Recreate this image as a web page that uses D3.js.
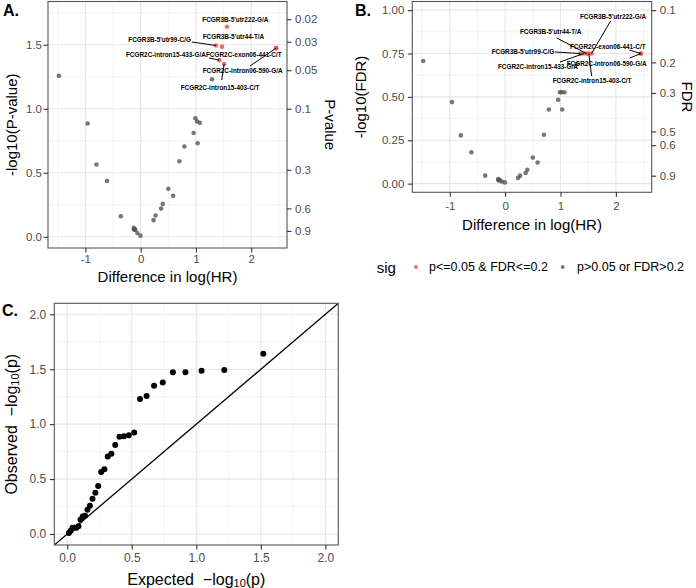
<!DOCTYPE html>
<html><head><meta charset="utf-8">
<script src="https://cdn.jsdelivr.net/npm/d3@7"></script>
<style>
body{margin:0;background:#fff;}
svg text{font-family:"Liberation Sans",Arial,sans-serif;}
</style>
</head><body>
<svg id="c" width="696" height="588"></svg>
<script>
// ---------------- data ----------------
const snpNames = [
  "FCGR3B-5'utr222-G/A","FCGR3B-5'utr99-C/G","FCGR3B-5'utr44-T/A","FCGR2C-exon06-441-C/T",
  "FCGR2C-intron06-590-G/A","FCGR2C-intron15-433-G/A","FCGR2C-intron15-403-C/T",
  "s8","s9","s10","s11","s12","s13","s14","s15","s16","s17","s18","s19","s20",
  "s21","s22","s23","s24","s25","s26","s27","s28","s29","s30","s31","s32"];
const diffLogHR = [1.56,1.36,1.47,2.45,2.45,1.42,1.51,
  -1.48,1.29,0.99,1.02,1.07,-0.96,0.957,1.03,0.79,0.70,-0.80,-0.61,0.50,
  0.587,0.40,0.37,0.27,-0.36,0.233,-0.126,-0.108,-0.12,-0.10,-0.06,-0.005];
const negLog10P = [1.64,1.494,1.485,1.473,1.473,1.38,1.35,
  1.257,1.23,0.925,0.90,0.89,0.885,0.81,0.73,0.705,0.59,0.564,0.436,0.375,
  0.32,0.257,0.22,0.166,0.16,0.13,0.07,0.057,0.057,0.057,0.03,0.009];
const negLog10FDR = [0.75,0.75,0.75,0.75,0.75,0.75,0.75,
  0.707,0.69,0.527,0.527,0.527,0.47,0.484,0.427,0.427,0.282,0.278,0.181,0.15,
  0.122,0.08,0.061,0.046,0.046,0.033,0.027,0.02,0.02,0.02,0.012,0.007];
const sigFlag = [1,1,1,1,1,1,1, 0,0,0,0,0,0,0,0,0,0,0,0,0, 0,0,0,0,0,0,0,0,0,0,0,0];
const sigLevels = ["p<=0.05 & FDR<=0.2","p>0.05 or FDR>0.2"];
const pValueTicks = [0.02,0.03,0.05,0.1,0.3,0.6,0.9];
const fdrTicks = [0.1,0.2,0.3,0.5,0.6,0.9];
const qqExpected = [1.519,1.217,1.041,0.916,0.819,0.740,0.673,0.615,0.564,0.519,0.477,0.439,
  0.405,0.372,0.342,0.314,0.288,0.263,0.240,0.218,0.196,0.176,0.157,0.138,0.120,0.103,
  0.087,0.071,0.056,0.041,0.027,0.013];
const qqObserved = [1.64,1.494,1.485,1.473,1.473,1.38,1.35,1.257,1.23,0.925,0.90,0.89,
  0.885,0.81,0.73,0.705,0.59,0.564,0.436,0.375,0.32,0.257,0.22,0.166,0.16,0.13,
  0.07,0.057,0.057,0.057,0.03,0.009];
const xTicksHR = [-1,0,1,2];
const yTicksA = [0,0.5,1.0,1.5];
const yTicksB = [0,0.25,0.5,0.75,1.0];
const ticksC = [0,0.5,1.0,1.5,2.0];

// ------------- label layout (data units) -------------
const labelLayoutA = {
  "FCGR3B-5'utr222-G/A":[1.115,1.698,null],
  "FCGR3B-5'utr44-T/A":[1.122,1.568,null],
  "FCGR3B-5'utr99-C/G":[-0.224,1.537,[0.928,1.521]],
  "FCGR2C-intron15-433-G/A":[-0.266,1.425,[1.236,1.396]],
  "FCGR2C-exon06-441-C/T":[1.181,1.425,null],
  "FCGR2C-intron06-590-G/A":[1.122,1.295,[1.978,1.334]],
  "FCGR2C-intron15-403-C/T":[0.724,1.1675,[1.466,1.2245]]
};
const labelLayoutB = {
  "FCGR3B-5'utr222-G/A":[1.351,0.966,[1.905,0.938]],
  "FCGR3B-5'utr44-T/A":[0.267,0.876,[0.930,0.840]],
  "FCGR3B-5'utr99-C/G":[-0.244,0.761,[0.899,0.759]],
  "FCGR2C-exon06-441-C/T":[1.170,0.789,[2.241,0.770]],
  "FCGR2C-intron06-590-G/A":[1.111,0.694,[2.249,0.724]],
  "FCGR2C-intron15-433-G/A":[-0.130,0.674,[0.990,0.701]],
  "FCGR2C-intron15-403-C/T":[0.858,0.592,[1.562,0.620]]
};

const FONT = '"Liberation Sans",Arial,sans-serif';
const RED = "#ec5252", GREY = "#555555";
const svg = d3.select("#c");
const rows = diffLogHR.map((d,i)=>({name:snpNames[i],x:d,p:negLog10P[i],f:negLog10FDR[i],sig:sigFlag[i]}));

const ext = d3.extent(diffLogHR), span = ext[1]-ext[0];
const xDom = [ext[0]-0.05*span, ext[1]+0.05*span];

function minorsBetween(major, dom){
  const step = major[1]-major[0];
  const out=[];
  for(let v=major[0]-step/2; v<=dom[1]; v+=step){ if(v>=dom[0]) out.push(+v.toFixed(4)); }
  return out;
}

function panelFrame(g, x, y, xMaj, yMaj){
  const [x0,x1]=x.range(), [y0,y1]=y.range();
  g.append("rect").attr("x",x0).attr("y",y1).attr("width",x1-x0).attr("height",y0-y1).attr("fill","#fff");
  const xm = minorsBetween(xMaj, x.domain()), ym = minorsBetween(yMaj, y.domain());
  xm.forEach(v=>g.append("line").attr("x1",x(v)).attr("x2",x(v)).attr("y1",y0).attr("y2",y1).attr("stroke","#ededed").attr("stroke-width",0.6));
  ym.forEach(v=>g.append("line").attr("y1",y(v)).attr("y2",y(v)).attr("x1",x0).attr("x2",x1).attr("stroke","#ededed").attr("stroke-width",0.6));
  xMaj.forEach(v=>g.append("line").attr("x1",x(v)).attr("x2",x(v)).attr("y1",y0).attr("y2",y1).attr("stroke","#e6e6e6").attr("stroke-width",1.1));
  yMaj.forEach(v=>g.append("line").attr("y1",y(v)).attr("y2",y(v)).attr("x1",x0).attr("x2",x1).attr("stroke","#e6e6e6").attr("stroke-width",1.1));
}
function panelBorder(g,x,y){
  const [x0,x1]=x.range(), [y0,y1]=y.range();
  g.append("rect").attr("x",x0).attr("y",y1).attr("width",x1-x0).attr("height",y0-y1)
    .attr("fill","none").attr("stroke","#555").attr("stroke-width",1.1);
}
function styleAxis(a, fs){
  a.attr("font-family",FONT).attr("font-size",fs);
  a.select(".domain").remove();
  a.selectAll(".tick line").attr("stroke","#333").attr("stroke-width",1.1);
  a.selectAll(".tick text").attr("fill","#4d4d4d");
}
const fmtPlain = d=>String(d);

function volcano(cfg){
  const g = svg.append("g");
  const {x,y} = cfg;
  panelFrame(g,x,y,xTicksHR,cfg.yMaj);
  const pts = rows.slice().sort((a,b)=>a.sig-b.sig);
  g.selectAll("circle.pt").data(pts).join("circle")
    .attr("cx",d=>x(d.x)).attr("cy",d=>y(cfg.val(d))).attr("r",2.3)
    .attr("fill",d=>d.sig?RED:GREY).attr("fill-opacity",d=>d.sig?0.85:0.8);
  rows.filter(d=>cfg.layout[d.name]).forEach(d=>{
    const L = cfg.layout[d.name];
    if(L[2]) g.append("line").attr("x1",x(L[2][0])).attr("y1",y(L[2][1]))
      .attr("x2",x(d.x)).attr("y2",y(cfg.val(d))).attr("stroke","#000").attr("stroke-width",1);
  });
  rows.filter(d=>cfg.layout[d.name]).forEach(d=>{
    const L = cfg.layout[d.name];
    g.append("text").attr("x",x(L[0])).attr("y",y(L[1])).attr("dominant-baseline","central")
      .attr("font-size",6.4).attr("font-weight","bold").attr("fill","#000").text(d.name);
  });
  panelBorder(g,x,y);
  const [x0,x1]=x.range(), [y0,y1]=y.range();
  const ax = g.append("g").attr("transform",`translate(0,${y0})`)
    .call(d3.axisBottom(x).tickValues(xTicksHR).tickFormat(fmtPlain).tickSize(4.5).tickPadding(cfg.xPad));
  styleAxis(ax,11.5);
  const ay = g.append("g").attr("transform",`translate(${x0},0)`)
    .call(d3.axisLeft(y).tickValues(cfg.yMaj).tickFormat(d3.format(cfg.yFmt)).tickSize(4.5).tickPadding(cfg.yPad));
  styleAxis(ay,11.5);
  const ar = g.append("g").attr("transform",`translate(${x1},0)`)
    .call(d3.axisRight(y).tickValues(cfg.secTicks.map(p=>-Math.log10(p))).tickFormat((d,i)=>String(cfg.secTicks[i])).tickSize(4.5).tickPadding(3.5));
  styleAxis(ar,11.5);
  g.append("text").attr("x",(x0+x1)/2).attr("y",cfg.xTitleY).attr("text-anchor","middle").attr("dominant-baseline","central")
    .attr("font-size",15).text("Difference in log(HR)");
  g.append("text").attr("transform",`translate(${cfg.yTitleX},${(y0+y1)/2}) rotate(-90)`).attr("text-anchor","middle")
    .attr("dominant-baseline","central").attr("font-size",15).text(cfg.yTitle);
  g.append("text").attr("transform",`translate(${cfg.secTitleX},${(y0+y1)/2}) rotate(90)`).attr("text-anchor","middle")
    .attr("dominant-baseline","central").attr("font-size",15).text(cfg.secTitle);
  g.append("text").attr("x",cfg.tag[0]).attr("y",cfg.tag[1]).attr("font-size",16).attr("font-weight","bold").text(cfg.tagText);
}

volcano({
  x:d3.scaleLinear().domain(xDom).range([48,287]),
  y:d3.scaleLinear().domain([-0.0875,1.8375]).range([248,1.5]),
  val:d=>d.p, yMaj:yTicksA, yFmt:".1f", secTicks:pValueTicks, layout:labelLayoutA,
  xPad:2.5, yPad:1.5, xTitleY:276, yTitleX:11, secTitleX:330,
  yTitle:"-log10(P-value)", secTitle:"P-value", tag:[3,16], tagText:"A."
});
volcano({
  x:d3.scaleLinear().domain(xDom).range([412.3,651.7]),
  y:d3.scaleLinear().domain([-0.05,1.05]).range([192.3,1.5]),
  val:d=>d.f, yMaj:yTicksB, yFmt:".2f", secTicks:fdrTicks, layout:labelLayoutB,
  xPad:5, yPad:3.5, xTitleY:224, yTitleX:360, secTitleX:687,
  yTitle:"-log10(FDR)", secTitle:"FDR", tag:[355,16], tagText:"B."
});

{
  const g = svg.append("g").attr("font-family",FONT);
  g.append("text").attr("x",376.7).attr("y",267).attr("dominant-baseline","central").attr("font-size",15).text("sig");
  const items = [[416,429,RED,0.85],[562.7,577,GREY,0.8]];
  sigLevels.forEach((s,i)=>{
    const it = items[i];
    g.append("circle").attr("cx",it[0]).attr("cy",267).attr("r",1.9).attr("fill",it[2]).attr("fill-opacity",it[3]);
    g.append("text").attr("x",it[1]).attr("y",267).attr("dominant-baseline","central").attr("font-size",12.5).text(s);
  });
}

{
  const g = svg.append("g");
  const x = d3.scaleLinear().domain([-0.1,2.1]).range([54.3,338.3]);
  const y = d3.scaleLinear().domain([-0.1,2.1]).range([545,303.3]);
  panelFrame(g,x,y,ticksC,ticksC);
  const clipId="clipC";
  svg.append("defs").append("clipPath").attr("id",clipId).append("rect")
    .attr("x",54.3).attr("y",303.3).attr("width",284).attr("height",241.7);
  g.append("line").attr("clip-path",`url(#${clipId})`)
    .attr("x1",x(-0.1)).attr("y1",y(-0.1)).attr("x2",x(2.1)).attr("y2",y(2.1))
    .attr("stroke","#000").attr("stroke-width",1.3);
  g.selectAll("circle.qq").data(qqExpected).join("circle")
    .attr("cx",d=>x(d)).attr("cy",(d,i)=>y(qqObserved[i])).attr("r",3).attr("fill","#000");
  panelBorder(g,x,y);
  const ax = g.append("g").attr("transform","translate(0,545)")
    .call(d3.axisBottom(x).tickValues(ticksC).tickFormat(d3.format(".1f")).tickSize(4.5).tickPadding(3.5));
  styleAxis(ax,12);
  const ay = g.append("g").attr("transform","translate(54.3,0)")
    .call(d3.axisLeft(y).tickValues(ticksC).tickFormat(d3.format(".1f")).tickSize(4.5).tickPadding(3.5));
  styleAxis(ay,12);
  const t1 = g.append("text").attr("x",196.3).attr("y",579).attr("text-anchor","middle").attr("dominant-baseline","central")
    .attr("font-size",16).style("white-space","pre");
  t1.append("tspan").text("Expected  \u2212log");
  t1.append("tspan").attr("font-size",11).attr("dy",4).text("10");
  t1.append("tspan").attr("dy",-4).text("(p)");
  const t2 = g.append("text").attr("transform",`translate(11,424.2) rotate(-90)`).attr("text-anchor","middle").attr("dominant-baseline","central")
    .attr("font-size",16).style("white-space","pre");
  t2.append("tspan").text("Observed  \u2212log");
  t2.append("tspan").attr("font-size",11).attr("dy",4).text("10");
  t2.append("tspan").attr("dy",-4).text("(p)");
  g.append("text").attr("x",2).attr("y",316).attr("font-size",16).attr("font-weight","bold").text("C.");
}
</script>
</body></html>
